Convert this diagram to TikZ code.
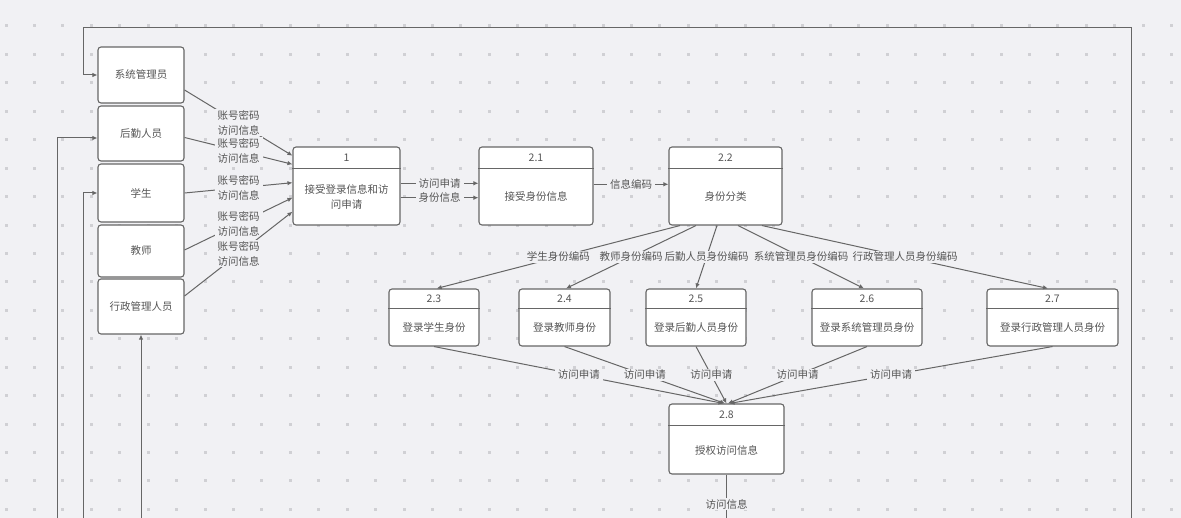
\documentclass[tikz,border=0pt]{standalone}
\usepackage{fontspec}
\setmainfont{Noto Sans CJK SC}
\usetikzlibrary{arrows.meta,calc}

\definecolor{bgpaper}{HTML}{F1F1F4}
\definecolor{griddot}{HTML}{D0D0D4}
\definecolor{edgegray}{HTML}{666666}
\definecolor{inkgray}{HTML}{555555}

\tikzset{
    entity/.style={draw=edgegray, line width=1.1pt, fill=white, rounded corners=3pt, minimum width=86pt, text=inkgray},
    proc/.style={draw=edgegray, line width=1.1pt, fill=white, rounded corners=3pt, inner sep=0pt},
    flow/.style={draw=edgegray, line width=1pt, -{Latex[length=5pt,width=4.5pt]}},
    lab/.style={fill=bgpaper, inner xsep=3pt, inner ysep=1pt, text=inkgray, align=center},
}

\begin{document}
\begin{tikzpicture}[x=1pt, y=-1pt, font=\fontsize{10.5pt}{15.5pt}\selectfont]
    \useasboundingbox (0,0) rectangle (1181,518);
    \clip (0,0) rectangle (1181,518);
    \fill[bgpaper] (0,0) rectangle (1181,518);
    \foreach \i in {0,...,41}
        \foreach \j in {0,...,17}
            \fill[griddot] ({6+28.43*\i-1.5}, {26+28.43*\j-1.5}) rectangle ++(3,3);

    % external entities
    \node[entity, minimum height=56pt] (sys) at (141,75)    {系统管理员};
    \node[entity, minimum height=55pt] (log) at (141,133.5) {后勤人员};
    \node[entity, minimum height=58pt] (stu) at (141,193)   {学生};
    \node[entity, minimum height=52pt] (tea) at (141,251)   {教师};
    \node[entity, minimum height=55pt] (adm) at (141,306.5) {行政管理人员};

    % processes
    \foreach \nm/\cx/\cy/\w/\h/\hh/\num/\txt in {
        p1/346.5/186/107/78/22/1/{接受登录信息和访\\问申请},
        p21/536/186/114/78/22/2.1/接受身份信息,
        p22/725.5/186/113/78/22/2.2/身份分类,
        p23/434/317.5/90/57/20/2.3/登录学生身份,
        p24/564.5/317.5/91/57/20/2.4/登录教师身份,
        p25/696/317.5/100/57/20/2.5/登录后勤人员身份,
        p26/867/317.5/110/57/20/2.6/登录系统管理员身份,
        p27/1052.5/317.5/131/57/20/2.7/登录行政管理人员身份,
        p28/726.5/439/115/70/22/2.8/授权访问信息}
    {
        \node[proc, minimum width=\w pt, minimum height=\h pt] (\nm) at (\cx,\cy) {};
        \draw[edgegray, line width=1.1pt] ([yshift=-\hh pt]\nm.north west) -- ([yshift=-\hh pt]\nm.north east);
        \node[text=inkgray] at ([yshift=-\hh pt/2]\nm.north) {\num};
        \node[text=inkgray, align=center] at ($(\nm.south)!0.5!([yshift=-\hh pt]\nm.north)$) {\txt};
    }

    % flows into the entities
    \coordinate (inSys) at (1131,560);
    \coordinate (inLog) at (57,560);
    \coordinate (inStu) at (83,560);
    \coordinate (inAdm) at (141,560);
    \draw[flow] (inSys) |- (83,28) |- (sys.west);
    \draw[flow] (inLog) |- ([yshift=-4.5pt]log.west);
    \draw[flow] (inStu) |- (stu.west);
    \draw[flow] (inAdm) -- (adm.south);

    % entities to process 1
    \draw[flow] ([yshift=-15pt]sys.east) -- ([yshift=30.3pt]p1.west) node[lab, midway] {账号密码\\访问信息};
    \draw[flow] ([yshift=-4pt]log.east) -- ([yshift=21.7pt]p1.west) node[lab, midway] {账号密码\\访问信息};
    \draw[flow] (stu.east) -- ([yshift=3.3pt]p1.west) node[lab, midway] {账号密码\\访问信息};
    \draw[flow] ([yshift=1pt]tea.east) -- ([yshift=-11.7pt]p1.west) node[lab, midway] {账号密码\\访问信息};
    \draw[flow] ([yshift=10.5pt]adm.east) -- ([yshift=-25.7pt]p1.west) node[lab, midway] {账号密码\\访问信息};

    \draw[flow] ([yshift=2.7pt]p1.east) -- ([yshift=2.7pt]p21.west) node[lab, midway] {访问申请};
    \draw[flow] ([yshift=-11.7pt]p1.east) -- ([yshift=-11.7pt]p21.west) node[lab, midway] {身份信息};
    \draw[flow] ([yshift=1.7pt]p21.east) -- ([yshift=1.7pt]p22.west) node[lab, midway] {信息编码};

    % identity classes
    \draw[flow] ([xshift=-45.5pt]p22.south) -- ([xshift=2.7pt]p23.north) node[lab, midway] {学生身份编码};
    \draw[flow] ([xshift=-29.5pt]p22.south) -- ([xshift=1.5pt]p24.north) node[lab, midway] {教师身份编码};
    \draw[flow] ([xshift=-8.5pt]p22.south) -- (p25.north) node[lab, midway] {后勤人员身份编码};
    \draw[flow] ([xshift=12.5pt]p22.south) -- ([xshift=-3pt]p26.north) node[lab, midway] {系统管理员身份编码};
    \draw[flow] ([xshift=36.5pt]p22.south) -- ([xshift=-4.5pt]p27.north) node[lab, midway] {行政管理人员身份编码};

    % requests to 2.8
    \draw[flow] (p23.south) -- ([xshift=-3pt]p28.north) node[lab, midway] {访问申请};
    \draw[flow] (p24.south) -- ([xshift=-1.5pt]p28.north) node[lab, midway] {访问申请};
    \draw[flow] (p25.south) -- (p28.north) node[lab, midway] {访问申请};
    \draw[flow] (p26.south) -- ([xshift=1.5pt]p28.north) node[lab, midway] {访问申请};
    \draw[flow] (p27.south) -- ([xshift=3pt]p28.north) node[lab, midway] {访问申请};

    \coordinate (out28) at (726.5,534);
    \draw[flow] (p28.south) -- (out28) node[lab, midway] {访问信息};
\end{tikzpicture}
\end{document}
